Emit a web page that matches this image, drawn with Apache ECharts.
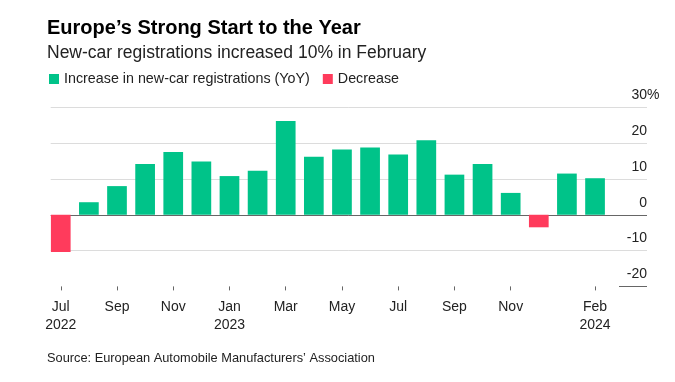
<!DOCTYPE html>
<html>
<head>
<meta charset="utf-8">
<script src="https://cdn.jsdelivr.net/npm/echarts@6/dist/echarts.min.js"></script>
<style>
html,body{margin:0;padding:0;background:#fff;}
#c{width:675px;height:382px;}
</style>
</head>
<body>
<div id="c"></div>
<script>
const categories = ['Jul\n2022','Aug','Sep','Oct','Nov','Dec','Jan\n2023','Feb','Mar','Apr','May','Jun','Jul','Aug','Sep','Oct','Nov','Dec','Jan','Feb\n2024'];
const values = [-10.4, 3.5, 8.0, 14.2, 17.5, 14.9, 10.8, 12.3, 26.2, 16.2, 18.2, 18.8, 16.8, 20.8, 11.2, 14.2, 6.1, -3.5, 11.5, 10.2];
const labeledIdx = [0,2,4,6,8,10,12,14,16,19];
const yTicks = [-20,-10,0,10,20,30];
const seriesNames = ['Increase in new-car registrations (YoY)', 'Decrease'];

const GREEN = '#00c389';
const RED = '#ff3b5c';
const FONT = '"Liberation Sans", Arial, sans-serif';

const incData = values.map(v => v >= 0 ? v : '-');
const decData = values.map(v => v < 0 ? v : '-');

const chart = echarts.init(document.getElementById('c'), null, {renderer:'canvas'});
const gridTop = 107.3, gridHeight = 179.1;
const option = {
  animation: false,
  backgroundColor: '#fff',
  title: [
    {text: 'Europe\u2019s Strong Start to the Year', left: 42, top: 13,
     textStyle: {fontFamily: FONT, fontSize: 20, fontWeight: 'bold', color: '#000'}},
    {text: 'New-car registrations increased 10% in February', left: 42, top: 39,
     textStyle: {fontFamily: FONT, fontSize: 17.5, fontWeight: 'normal', color: '#222'}},
    {text: 'Source: European Automobile Manufacturers\u2019 Association', left: 42, top: 347,
     textStyle: {fontFamily: FONT, fontSize: 12.8, fontWeight: 'normal', color: '#222'}}
  ],
  legend: {
    left: 44, top: 67, itemWidth: 10, itemHeight: 10, itemGap: 13,
    icon: 'rect', selectedMode: false,
    textStyle: {fontFamily: FONT, fontSize: 14.3, color: '#222'},
    data: seriesNames
  },
  grid: [
    {left: 46.7, width: 562.4, top: gridTop, height: gridHeight},
    {left: 50.7, right: 28, top: gridTop, height: gridHeight}
  ],
  xAxis: [
    {type: 'category', gridIndex: 0, data: categories, boundaryGap: true, position: 'bottom',
     axisLine: {show: true, onZero: false, lineStyle: {color: 'rgba(0,0,0,0)'}},
     axisTick: {show: true, length: 4, alignWithLabel: true, interval: (i) => labeledIdx.includes(i),
       lineStyle: {color: '#666', width: 1}},
     axisLabel: {interval: (i) => labeledIdx.includes(i), margin: 12, fontFamily: FONT, fontSize: 14,
       color: '#222', lineHeight: 18}},
    {type: 'value', gridIndex: 1, min: 0, max: 1, show: false}
  ],
  yAxis: [
    {type: 'value', gridIndex: 0, min: -20, max: 30, interval: 10, show: false},
    {type: 'value', gridIndex: 1, min: -20, max: 30, interval: 10, position: 'right',
     axisLine: {show: false}, axisTick: {show: false},
     splitLine: {show: true, lineStyle: {width: 1, color: ['rgba(0,0,0,0)', '#dcdcdc', '#666', '#dcdcdc', '#dcdcdc', '#dcdcdc']}},
     axisLabel: {inside: true, margin: -12.5, fontFamily: FONT, fontSize: 14, color: '#222',
       verticalAlign: 'bottom', lineHeight: 14, padding: [0,0,5,0],
       formatter: (v) => v === 30 ? '{n|30}{p|%}' : '{n|' + v + '}{h|%}',
       rich: {
         n: {fontFamily: FONT, fontSize: 14, color: '#222', lineHeight: 14},
         p: {fontFamily: FONT, fontSize: 14, color: '#222', lineHeight: 14},
         h: {fontFamily: FONT, fontSize: 14, color: 'rgba(0,0,0,0)', lineHeight: 14}
       }}}
  ],
  series: [
    {name: seriesNames[0], type: 'bar', xAxisIndex: 0, yAxisIndex: 0, stack: 'all', data: incData,
     barWidth: 19.7, itemStyle: {color: GREEN}},
    {name: seriesNames[1], type: 'bar', xAxisIndex: 0, yAxisIndex: 0, stack: 'all', data: decData,
     barWidth: 19.7, itemStyle: {color: RED}}
  ]
};
chart.setOption(option);
const yMin = chart.convertToPixel({yAxisIndex: 1}, yTicks[0]);
chart.setOption({graphic: [{type: 'line', shape: {x1: 619, y1: Math.round(yMin) + 0.5, x2: 647, y2: Math.round(yMin) + 0.5},
  style: {stroke: '#666', lineWidth: 1}}]});
</script>
</body>
</html>
